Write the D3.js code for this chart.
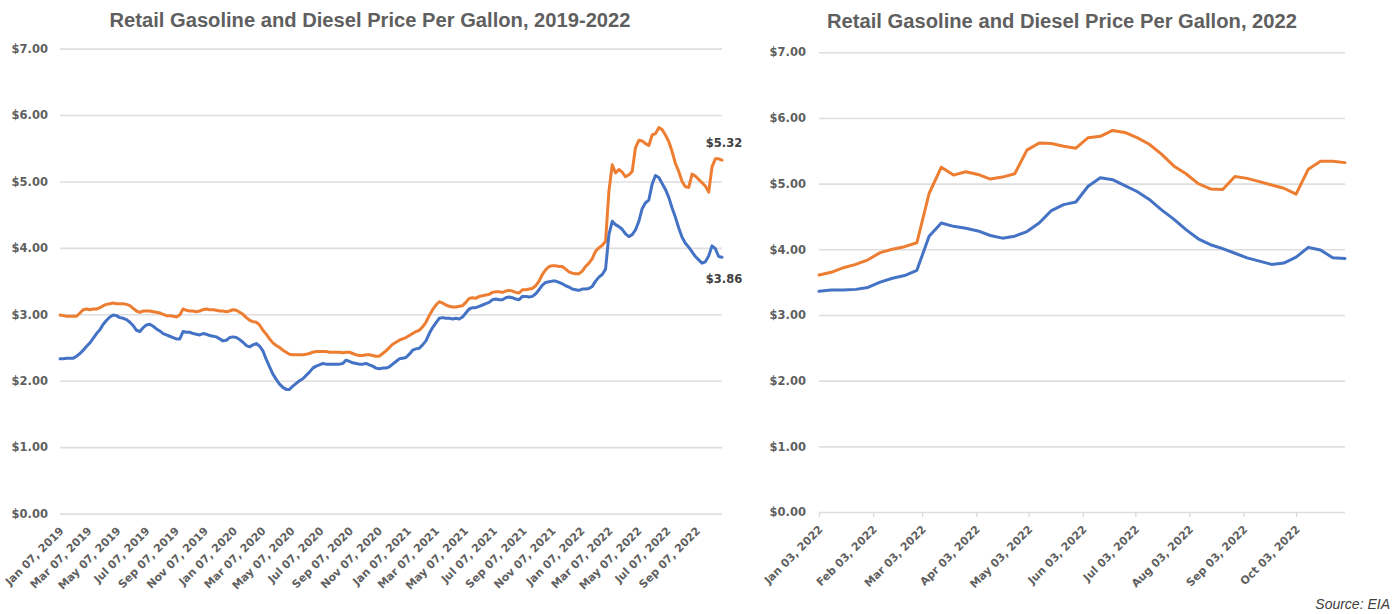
<!DOCTYPE html>
<html><head><meta charset="utf-8">
<script src="https://cdn.jsdelivr.net/npm/d3@7"></script>
<style>body{margin:0;background:#fff}svg{display:block}</style>
</head><body>
<svg id="c" width="1399" height="614"></svg>
<script>
// ---------- data ----------
const startDate = "2019-01-07"; // weekly (Mondays) through Oct 31, 2022
const gasoline = [
 // 2019
 2.33,2.33,2.34,2.34,2.34,2.37,2.41,2.46,2.52,2.57,2.64,2.71,2.77,2.85,2.91,2.96,2.99,2.98,2.95,2.94,
 2.92,2.88,2.83,2.76,2.74,2.80,2.84,2.85,2.82,2.78,2.75,2.71,2.69,2.67,2.65,2.63,2.63,2.74,2.73,2.73,
 2.71,2.70,2.69,2.71,2.70,2.68,2.67,2.66,2.63,2.60,2.61,2.65,
 // 2020
 2.66,2.65,2.62,2.58,2.53,2.51,2.54,2.56,2.52,2.45,2.32,2.21,2.10,2.02,1.95,1.90,1.87,1.87,1.92,1.96,
 2.00,2.03,2.08,2.13,2.19,2.22,2.24,2.26,2.25,2.25,2.25,2.25,2.25,2.26,2.31,2.29,2.27,2.26,2.25,2.25,
 2.26,2.24,2.22,2.19,2.18,2.19,2.19,2.21,2.25,2.29,2.33,2.34,
 // 2021
 2.35,2.40,2.46,2.48,2.49,2.54,2.60,2.71,2.80,2.87,2.94,2.95,2.94,2.94,2.93,2.94,2.93,2.96,3.02,3.08,
 3.10,3.10,3.12,3.14,3.16,3.18,3.22,3.23,3.22,3.22,3.25,3.26,3.25,3.23,3.22,3.27,3.27,3.26,3.27,3.31,
 3.37,3.44,3.48,3.49,3.50,3.50,3.48,3.46,3.43,3.41,3.38,3.37,
 // 2022
 3.36,3.38,3.38,3.39,3.42,3.50,3.56,3.60,3.68,4.20,4.40,4.35,4.32,4.28,4.21,4.17,4.20,4.27,4.40,4.59,
 4.68,4.72,4.96,5.09,5.06,4.97,4.88,4.76,4.60,4.46,4.30,4.16,4.07,4.01,3.94,3.87,3.82,3.77,3.79,3.88,
 4.03,3.99,3.87,3.86
];
const diesel = [
 // 2019
 2.99,2.98,2.97,2.97,2.97,2.97,3.02,3.07,3.08,3.07,3.08,3.08,3.10,3.13,3.15,3.16,3.17,3.16,3.16,3.16,
 3.15,3.13,3.09,3.05,3.03,3.05,3.05,3.05,3.04,3.03,3.02,3.00,2.98,2.98,2.97,2.96,2.99,3.08,3.06,3.05,
 3.05,3.04,3.05,3.07,3.08,3.07,3.07,3.06,3.05,3.05,3.04,3.05,
 // 2020
 3.07,3.06,3.03,3.00,2.95,2.91,2.89,2.88,2.84,2.76,2.70,2.63,2.57,2.53,2.50,2.46,2.43,2.40,2.39,2.39,
 2.39,2.39,2.40,2.41,2.43,2.44,2.44,2.44,2.44,2.43,2.43,2.43,2.43,2.42,2.43,2.43,2.41,2.39,2.38,2.38,
 2.39,2.39,2.38,2.37,2.37,2.41,2.45,2.50,2.55,2.58,2.61,2.63,
 // 2021
 2.65,2.68,2.71,2.74,2.76,2.81,2.88,2.98,3.07,3.14,3.19,3.17,3.14,3.12,3.11,3.11,3.12,3.13,3.18,3.24,
 3.25,3.24,3.27,3.28,3.29,3.30,3.33,3.34,3.34,3.33,3.35,3.36,3.35,3.33,3.32,3.37,3.37,3.38,3.39,3.43,
 3.50,3.60,3.67,3.72,3.73,3.73,3.72,3.72,3.68,3.64,3.62,3.61,
 // 2022
 3.61,3.65,3.72,3.77,3.84,3.95,4.00,4.04,4.10,4.85,5.25,5.13,5.18,5.14,5.07,5.10,5.15,5.51,5.62,5.61,
 5.57,5.54,5.70,5.72,5.81,5.78,5.70,5.60,5.45,5.27,5.15,5.00,4.92,4.91,5.11,5.08,5.03,4.98,4.93,4.84,
 5.22,5.34,5.34,5.32
];
const leftTickLabels = ["Jan 07, 2019","Mar 07, 2019","May 07, 2019","Jul 07, 2019","Sep 07, 2019","Nov 07, 2019",
 "Jan 07, 2020","Mar 07, 2020","May 07, 2020","Jul 07, 2020","Sep 07, 2020","Nov 07, 2020",
 "Jan 07, 2021","Mar 07, 2021","May 07, 2021","Jul 07, 2021","Sep 07, 2021","Nov 07, 2021",
 "Jan 07, 2022","Mar 07, 2022","May 07, 2022","Jul 07, 2022","Sep 07, 2022"];
const rightTickLabels = ["Jan 03, 2022","Feb 03, 2022","Mar 03, 2022","Apr 03, 2022","May 03, 2022",
 "Jun 03, 2022","Jul 03, 2022","Aug 03, 2022","Sep 03, 2022","Oct 03, 2022"];
const yTicks = [0,1,2,3,4,5,6,7];
const leftTitle = "Retail Gasoline and Diesel Price Per Gallon, 2019-2022";
const rightTitle = "Retail Gasoline and Diesel Price Per Gallon, 2022";
const rightStart = "2022-01-03";
const sourceText = "Source: EIA";
const colors = {gasoline:"#4472C4", diesel:"#ED7D31"};

// ---------- build ----------
const parseISO = d3.timeParse("%Y-%m-%d");
const parseLbl = d3.timeParse("%b %d, %Y");
const t0 = parseISO(startDate);
const rows = gasoline.map((g,i)=>({date:d3.timeDay.offset(t0, i*7), gasoline:g, diesel:diesel[i]}));
const rStart = parseISO(rightStart);
const rightRows = rows.filter(r=>r.date>=rStart);

const svg = d3.select("#c");
svg.append("rect").attr("width",1399).attr("height",614).attr("fill","#fff");
const fmt = d=>"$"+d3.format(".2f")(d);
const labelFont = "'DejaVu Sans', Verdana, sans-serif";
const titleFont = "'Liberation Sans Narrow','Arial Narrow','Liberation Sans',sans-serif";
const grey = "#5f5f5f";

function drawChart(o){
  const g = svg.append("g");
  const x = d3.scaleTime().domain([o.data[0].date, o.data[o.data.length-1].date]).range([o.x0,o.x1]);
  const y = d3.scaleLinear().domain([0,7]).range([o.yb,o.yt]);
  // grid
  const yAxis = d3.axisLeft(y).tickValues(yTicks).tickSize(-(o.x1-o.gx0)).tickFormat(fmt).tickPadding(o.gx0-o.lblX);
  const ya = g.append("g").attr("transform",`translate(${o.gx0},0)`).call(yAxis);
  ya.select(".domain").remove();
  ya.selectAll(".tick line").attr("stroke","#dedede").attr("stroke-width",1.6);
  ya.selectAll(".tick text").attr("fill",grey).style("font-family",labelFont).style("font-weight","bold").style("font-size","11.5px");
  // x axis
  const tickDates = o.ticks.map(parseLbl);
  const xAxis = d3.axisBottom(x).tickValues(tickDates).tickSize(o.tickLen).tickFormat(d3.timeFormat("%b %d, %Y"));
  const xa = g.append("g").attr("transform",`translate(0,${o.yb})`).call(xAxis);
  xa.select(".domain").remove();
  xa.selectAll(".tick line").attr("stroke","#d9d9d9").attr("stroke-width",1.3);
  xa.selectAll(".tick text").attr("fill",grey).style("font-family",labelFont).style("font-weight","bold").style("font-size","11px")
    .attr("text-anchor","end").attr("y",0).attr("dy",0)
    .attr("transform","translate(4,18) rotate(-45)");
  // lines
  ["diesel","gasoline"].forEach(k=>{
    g.append("path").datum(o.data).attr("fill","none").attr("stroke",colors[k]).attr("stroke-width",3)
     .attr("stroke-linejoin","round").attr("stroke-linecap","round")
     .attr("d", d3.line().x(d=>x(d.date)).y(d=>y(d[k])));
  });
  // title
  g.append("text").attr("x",o.titleX).attr("y",o.titleY).attr("text-anchor","middle")
   .attr("fill",grey).style("font-family",titleFont).style("font-weight","bold").style("font-size","20px")
   .attr("textLength",o.titleW).attr("lengthAdjust","spacingAndGlyphs").text(o.title);
  return {x,y,g};
}

const L = drawChart({data:rows, x0:60, x1:722, gx0:60, yt:48.6, yb:513.6, lblX:48, tickLen:0,
  ticks:leftTickLabels, title:leftTitle, titleX:370, titleY:27, titleW:521});
const R = drawChart({data:rightRows, x0:819, x1:1345, gx0:819, yt:52.3, yb:512, lblX:806, tickLen:5,
  ticks:rightTickLabels, title:rightTitle, titleX:1062, titleY:28, titleW:470});

// end labels on left chart
const last = rows[rows.length-1];
L.g.append("text").attr("x",L.x(last.date)+2).attr("y",L.y(last.diesel)-13).attr("text-anchor","middle")
  .attr("fill","#404040").style("font-family",labelFont).style("font-weight","bold").style("font-size","11.5px").text(fmt(last.diesel));
L.g.append("text").attr("x",L.x(last.date)+2).attr("y",L.y(last.gasoline)+26).attr("text-anchor","middle")
  .attr("fill","#404040").style("font-family",labelFont).style("font-weight","bold").style("font-size","11.5px").text(fmt(last.gasoline));

svg.append("text").attr("x",1390).attr("y",609).attr("text-anchor","end").attr("fill","#404040")
  .style("font-family","'Liberation Sans Narrow','Liberation Sans',sans-serif").style("font-style","italic").style("font-size","14px")
  .text(sourceText);
</script>
</body></html>
